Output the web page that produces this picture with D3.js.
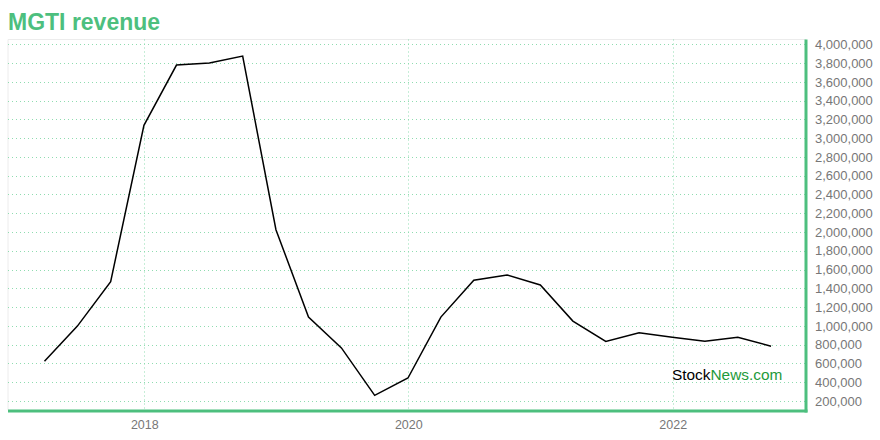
<!DOCTYPE html>
<html><head><meta charset="utf-8">
<script src="https://cdn.jsdelivr.net/npm/d3@7"></script>
<style>
html,body{margin:0;padding:0;background:#fff;}
svg{display:block;font-family:"Liberation Sans",Arial,Helvetica,sans-serif;}
</style></head>
<body><svg id="chart" width="880" height="440"></svg>
<script>
const quarters = ["2017-03-31","2017-06-30","2017-09-30","2017-12-31","2018-03-31","2018-06-30","2018-09-30","2018-12-31",
"2019-03-31","2019-06-30","2019-09-30","2019-12-31","2020-03-31","2020-06-30","2020-09-30","2020-12-31",
"2021-03-31","2021-06-30","2021-09-30","2021-12-31","2022-03-31","2022-06-30","2022-09-30"];
const revenue = [624000,998000,1472000,3137000,3779000,3800000,3875000,2025000,
1094000,766000,260000,445000,1094000,1486000,1543000,1436000,
1051000,834000,926000,880000,837000,880000,784000];
const yTicks = [200000,400000,600000,800000,1000000,1200000,1400000,1600000,1800000,2000000,2200000,2400000,2600000,2800000,3000000,3200000,3400000,3600000,3800000,4000000];
const xTickYears = ["2018","2020","2022"];
const title = "MGTI revenue";

(function(){
const svg = d3.select("#chart");
const parse = d3.timeParse("%Y-%m-%d");
const data = quarters.map((q,i)=>({date:parse(q), value:revenue[i]}));

const pL = 8, pR = 806, pT = 39.5, pB = 410;
const x0 = d3.scaleTime().domain([new Date(2018,0,1), new Date(2022,0,1)]).range([144.3, 672.7]);
const x = d3.scaleTime().domain([x0.invert(pL), x0.invert(pR)]).range([pL, pR]);
const y0 = d3.scaleLinear().domain([200000, 4000000]).range([401, 44.3]);
const y = d3.scaleLinear().domain([y0.invert(pB), y0.invert(pT)]).range([pB, pT]);

svg.append("text").attr("x", 8).attr("y", 30).attr("fill", "#4dbf7e")
  .attr("font-size", 23).attr("font-weight", "bold").text(title);

svg.append("line").attr("x1", pL).attr("x2", pR).attr("y1", pT).attr("y2", pT).attr("stroke", "#ececec");
svg.append("line").attr("x1", pL).attr("x2", pL).attr("y1", pT).attr("y2", pB).attr("stroke", "#ececec");

svg.append("g").selectAll("line").data(yTicks).join("line")
  .attr("x1", pL).attr("x2", pR)
  .attr("y1", d=>Math.round(y(d))+0.5).attr("y2", d=>Math.round(y(d))+0.5)
  .attr("stroke", "#8fdcb0").attr("stroke-dasharray", "1,3");

const xTickDates = xTickYears.map(s=>new Date(+s,0,1));
svg.append("g").selectAll("line").data(xTickDates).join("line")
  .attr("x1", d=>Math.round(x(d))+0.5).attr("x2", d=>Math.round(x(d))+0.5)
  .attr("y1", pT).attr("y2", pB)
  .attr("stroke", "#8fdcb0").attr("stroke-dasharray", "1,3");

const yAxis = d3.axisRight(y).tickValues(yTicks).tickFormat(d3.format(",")).tickSize(0).tickPadding(9);
const gy = svg.append("g").attr("transform", `translate(${pR},0)`).call(yAxis);
gy.select(".domain").remove();
gy.selectAll("text").attr("fill", "#777").attr("font-size", 13).attr("font-family", "'Liberation Sans',Arial,sans-serif");

const xAxis = d3.axisBottom(x).tickValues(xTickDates).tickFormat(d3.timeFormat("%Y")).tickSize(0).tickPadding(10);
const gx = svg.append("g").attr("transform", `translate(0,${pB})`).call(xAxis);
gx.select(".domain").remove();
gx.selectAll("text").attr("fill", "#777").attr("font-size", 12.5).attr("font-family", "'Liberation Sans',Arial,sans-serif");

svg.append("line").attr("x1", pL).attr("x2", pR+1.5).attr("y1", pB+1).attr("y2", pB+1)
  .attr("stroke", "#4dbf7e").attr("stroke-width", 3);
svg.append("line").attr("x1", pR).attr("x2", pR).attr("y1", pT).attr("y2", pB+2.5)
  .attr("stroke", "#4dbf7e").attr("stroke-width", 3);

const line = d3.line().x(d=>x(d.date)).y(d=>y(d.value));
svg.append("path").datum(data).attr("d", line).attr("fill", "none")
  .attr("stroke", "#000").attr("stroke-width", 1.5);

const wm = svg.append("text").attr("x", 672).attr("y", 380).attr("font-size", 15.4);
wm.append("tspan").attr("fill", "#000").text("Stock");
wm.append("tspan").attr("fill", "#1e9a3a").text("News.com");
})();
</script></body></html>
